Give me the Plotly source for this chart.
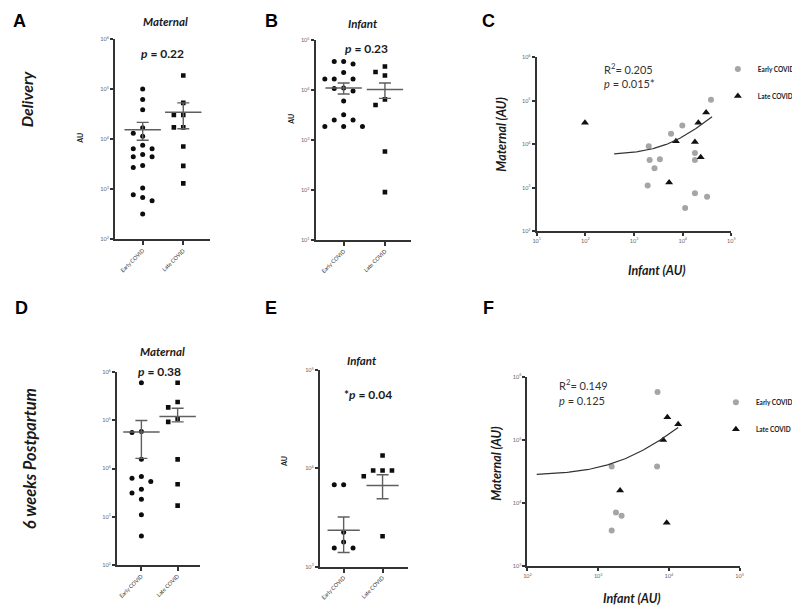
import numpy as np
import plotly.graph_objects as go

W, H = 800, 612

groups = ["Early COVID", "Late COVID"]

# ---------------- A: Delivery, maternal (AU)
a_early = [102000, 63000, 39000, 17000, 13200, 11500, 7600, 6500, 6500, 5000,
           4500, 4500, 3000, 2750, 1070, 780, 690, 590, 320]
a_late = [190000, 53700, 30900, 30900, 17400, 17400, 7200, 2950, 1320]
a_mean = [15500, 34700]
a_sem_low = [9600, 16300]
a_sem_high = [21900, 53700]
a_exp = [2, 3, 4, 5, 6]

# ---------------- B: Delivery, infant (AU)
b_early = [37000, 33000, 37000, 22400, 16600, 16600, 16600, 11000, 9500, 10700,
           6000, 3200, 2500, 2500, 1860, 1860, 1860]
b_late = [29500, 22900, 19500, 6500, 5000, 590, 91]
b_mean = [11000, 10200]
b_sem_low = [8300, 6800]
b_sem_high = [13800, 13800]
b_exp = [1, 2, 3, 4, 5]

# ---------------- C: Delivery, maternal vs infant
c_early_infant = [38000, 9800, 5750, 2000, 2090, 3390, 2630, 1900, 17800, 17800, 17800, 31600, 11200]
c_early_maternal = [105000, 26900, 17400, 8900, 4300, 4500, 2800, 1120, 6300, 4300, 740, 620, 340]
c_late_infant = [98, 20900, 30200, 7240, 17800, 23400, 5250]
c_late_maternal = [30900, 30900, 53700, 11700, 11200, 5000, 1320]
c_fit_intercept = 5640
c_fit_slope = 0.924
c_fit_xmin, c_fit_xmax = 390, 40000
c_x_exp = [1, 2, 3, 4, 5]
c_y_exp = [2, 3, 4, 5, 6]

# ---------------- D: 6 weeks, maternal (AU)
d_early = [603000, 58900, 56200, 15500, 6800, 6300, 5400, 3700, 3100, 2300, 1100, 400]
d_late = [603000, 240000, 186000, 107000, 93000, 15500, 4700, 1700]
d_mean = [57000, 120000]
d_sem_low = [16200, 93000]
d_sem_high = [99000, 178000]
d_exp = [2, 3, 4, 5, 6]

# ---------------- E: 6 weeks, infant (AU)
e_early = [6800, 6800, 2240, 1780, 1550, 1550]
e_late = [13500, 9500, 9500, 9500, 8300, 2040]
e_mean = [2340, 6700]
e_sem_low = [1390, 4900]
e_sem_high = [3200, 8600]
e_exp = [3, 4, 5]

# ---------------- F: 6 weeks, maternal vs infant
f_early_infant = [6900, 1550, 6800, 1780, 2140, 1550]
f_early_maternal = [575000, 38000, 38000, 7100, 6300, 3700]
f_late_infant = [9500, 13500, 8300, 2040, 9300]
f_late_maternal = [229000, 178000, 100000, 15800, 4900]
f_fit_intercept = 27200
f_fit_slope = 9.69
f_fit_xmin, f_fit_xmax = 135, 13500
f_x_exp = [2, 3, 4, 5]
f_y_exp = [3, 4, 5, 6]

# ======================================================================
AX = "#333333"
FONT = "Lato"

fig = go.Figure()


def dom_x(x0, x1):
    return [x0 / W, x1 / W]


def dom_y(y_top, y_bot):
    return [1 - y_bot / H, 1 - y_top / H]


def log_ticks(exps):
    return [10.0 ** e for e in exps], [f"10<sup>{e}</sup>" for e in exps]


def swarm(values, lo, hi, height_px, px_per_unit, step_px=9.5, min_dist=7.0):
    ys = (np.log10(values) - lo) / (hi - lo) * height_px
    order = np.argsort(-ys, kind="stable")
    placed = []
    offs = np.zeros(len(values))
    for i in order:
        xo = 0.0
        for k in [0, -1, 1, -2, 2, -3, 3]:
            xo = k * step_px
            if all((xo - px) ** 2 + (ys[i] - py) ** 2 >= min_dist ** 2 for px, py in placed):
                break
        placed.append((xo, ys[i]))
        offs[i] = xo / px_per_unit
    return offs


def base_axis():
    return dict(showline=True, linecolor=AX, linewidth=2, ticks="outside",
                tickcolor=AX, tickwidth=1.5, ticklen=3, showgrid=False,
                zeroline=False)


def dot_panel(n, early, late, mean, lo, hi, exps, xpx, cats_px, ypx,
              mean_w=26, cap=6):
    xa = "xaxis" if n == 1 else f"xaxis{n}"
    ya = "yaxis" if n == 1 else f"yaxis{n}"
    xr = "x" if n == 1 else f"x{n}"
    yr = "y" if n == 1 else f"y{n}"
    ppu = cats_px[1] - cats_px[0]
    rng = [-(cats_px[0] - xpx[0]) / ppu, 1 + (xpx[1] - cats_px[1]) / ppu]
    height = ypx[1] - ypx[0]
    e0, e1 = exps[0], exps[-1]
    oe = swarm(early, e0, e1, height, ppu)
    ol = swarm(late, e0, e1, height, ppu)
    fig.add_trace(go.Scatter(x=0 + oe, y=early, mode="markers", xaxis=xr, yaxis=yr,
                             marker=dict(symbol="circle", size=5, color="#0d0d0d"),
                             showlegend=False, hoverinfo="skip"))
    fig.add_trace(go.Scatter(x=1 + ol, y=late, mode="markers", xaxis=xr, yaxis=yr,
                             marker=dict(symbol="square", size=4.6, color="#0d0d0d"),
                             showlegend=False, hoverinfo="skip"))
    m = np.array(mean, float)
    fig.add_trace(go.Scatter(
        x=[0, 1], y=m, mode="markers", xaxis=xr, yaxis=yr,
        marker=dict(symbol="line-ew", size=mean_w, line=dict(width=1.5, color="#5f5f5f")),
        error_y=dict(type="data", symmetric=False, array=np.array(hi) - m,
                     arrayminus=m - np.array(lo), color="#5f5f5f", thickness=1.4, width=cap),
        showlegend=False, hoverinfo="skip"))
    tv, tt = log_ticks(exps)
    xaxis = base_axis()
    xaxis.update(domain=dom_x(*xpx), range=rng, tickvals=[0, 1], ticktext=groups,
                 tickangle=-45, tickfont=dict(size=5.5, color="#333", family=FONT),
                 ticklen=4, anchor=yr)
    yaxis = base_axis()
    yaxis.update(domain=dom_y(*ypx), type="log", range=[e0, e1], tickvals=tv, ticktext=tt,
                 tickfont=dict(size=5.5, color="#666", family=FONT), anchor=xr)
    fig.update_layout({xa: xaxis, ya: yaxis})


def scatter_panel(n, ei, em, li, lm, b0, b1, xmin, xmax, xexp, yexp, xpx, ypx, legend):
    xa, ya = f"xaxis{n}", f"yaxis{n}"
    xr, yr = f"x{n}", f"y{n}"
    fig.add_trace(go.Scatter(x=ei, y=em, mode="markers", xaxis=xr, yaxis=yr,
                             name="Early COVID", legend=legend, legendgroup=f"e{n}",
                             marker=dict(symbol="circle", size=6, color="#a5a5a5"),
                             hoverinfo="skip"))
    fig.add_trace(go.Scatter(x=li, y=lm, mode="markers", xaxis=xr, yaxis=yr,
                             name="Late COVID", legend=legend, legendgroup=f"l{n}",
                             marker=dict(symbol="triangle-up", size=7, color="#111"),
                             hoverinfo="skip"))
    xf = np.logspace(np.log10(xmin), np.log10(xmax), 80)
    fig.add_trace(go.Scatter(x=xf, y=b0 + b1 * xf, mode="lines", xaxis=xr, yaxis=yr,
                             line=dict(color="#333", width=1.2), showlegend=False,
                             hoverinfo="skip"))
    txv, txt = log_ticks(xexp)
    tyv, tyt = log_ticks(yexp)
    xaxis = base_axis()
    xaxis.update(domain=dom_x(*xpx), type="log", range=[xexp[0], xexp[-1]], tickvals=txv,
                 ticktext=txt, tickfont=dict(size=5.5, color="#666", family=FONT), anchor=yr)
    yaxis = base_axis()
    yaxis.update(domain=dom_y(*ypx), type="log", range=[yexp[0], yexp[-1]], tickvals=tyv,
                 ticktext=tyt, tickfont=dict(size=5.5, color="#666", family=FONT), anchor=xr)
    fig.update_layout({xa: xaxis, ya: yaxis})


dot_panel(1, a_early, a_late, a_mean, a_sem_low, a_sem_high, a_exp,
          (104, 200), (132, 173), (27.7, 230))
dot_panel(2, b_early, b_late, b_mean, b_sem_low, b_sem_high, b_exp,
          (306.7, 403), (335, 376.7), (28.3, 230.7))
scatter_panel(3, c_early_infant, c_early_maternal, c_late_infant, c_late_maternal,
              c_fit_intercept, c_fit_slope, c_fit_xmin, c_fit_xmax, c_x_exp, c_y_exp,
              (530, 726.7), (45.7, 221.7), "legend")
dot_panel(4, d_early, d_late, d_mean, d_sem_low, d_sem_high, d_exp,
          (106, 190), (130.7, 167.3), (364.3, 559.3))
dot_panel(5, e_early, e_late, e_mean, e_sem_low, e_sem_high, e_exp,
          (311, 400), (335, 374.3), (362.3, 561), mean_w=23)
scatter_panel(6, f_early_infant, f_early_maternal, f_late_infant, f_late_maternal,
              f_fit_intercept, f_fit_slope, f_fit_xmin, f_fit_xmax, f_x_exp, f_y_exp,
              (520.7, 735), (369, 560.7), "legend2")

# ---------------- text
anns = []


def ann(x, y, text, size, angle=0, family=FONT, color="#1a1a1a", xanchor="center"):
    anns.append(dict(x=x / W, y=1 - y / H, xref="paper", yref="paper", text=text,
                     showarrow=False, textangle=angle, xanchor=xanchor, yanchor="middle",
                     font=dict(size=size, family=family, color=color)))


for lt, lx, ly in [("A", 8, 9), ("B", 262.5, 9), ("C", 481, 9),
                   ("D", 10, 299), ("E", 262, 299), ("F", 481, 299)]:
    ann(lx, ly, f"<b>{lt}</b>", 18, family="Liberation Sans", color="#000")

ann(155, 10, "<b><i>Maternal</i></b>", 11.5)
ann(355, 12, "<b><i>Infant</i></b>", 11.5)
ann(152, 42, "<b><i>p</i> = 0.22</b>", 12)
ann(358, 37, "<b><i>p</i> = 0.23</b>", 12)
ann(152, 343, "<b><i>Maternal</i></b>", 11.5)
ann(149, 364, "<b><i>p</i> = 0.38</b>", 12)
ann(354, 353, "<b><i>Infant</i></b>", 11.5)
ann(360, 387, "<b>*<i>p</i> = 0.04</b>", 12)

ann(15.5, 88, "<b><i>Delivery</i></b>", 16, angle=-90)
ann(18.5, 452, "<b><i>6 weeks Postpartum</i></b>", 16.5, angle=-90)

ann(68, 128, "<b>AU</b>", 7, angle=-90)
ann(281.7, 108, "<b>AU</b>", 7, angle=-90)
ann(275, 455, "<b>AU</b>", 7, angle=-90)

ann(495, 124, "<b><i>Maternal (AU)</i></b>", 12.5, angle=-90)
ann(652, 261, "<b><i>Infant (AU)</i></b>", 12.5)
ann(490, 457, "<b><i>Maternal (AU)</i></b>", 12.5, angle=-90)
ann(626, 593, "<b><i>Infant (AU)</i></b>", 12.5)

ann(596, 57, "R<sup>2</sup>= 0.205", 11, color="#333", xanchor="left")
ann(596, 72, "<i>p</i> = 0.015*", 11, color="#333", xanchor="left")
ann(550, 377, "R<sup>2</sup>= 0.149", 11, color="#333", xanchor="left")
ann(550, 393, "<i>p</i> = 0.125", 11, color="#333", xanchor="left")

leg_style = dict(font=dict(size=6.5, family=FONT, color="#222", weight="bold"),
                 bgcolor="rgba(0,0,0,0)", tracegroupgap=8, itemwidth=30,
                 xanchor="left", yanchor="top")

fig.update_layout(
    width=W, height=H, margin=dict(l=0, r=0, t=0, b=0),
    paper_bgcolor="white", plot_bgcolor="white",
    font=dict(family=FONT),
    annotations=anns,
    legend=dict(x=713 / W, y=1 - 43 / H, **leg_style),
    legend2=dict(x=711 / W, y=1 - 380 / H, **leg_style),
)

fig.write_html("out.html")
